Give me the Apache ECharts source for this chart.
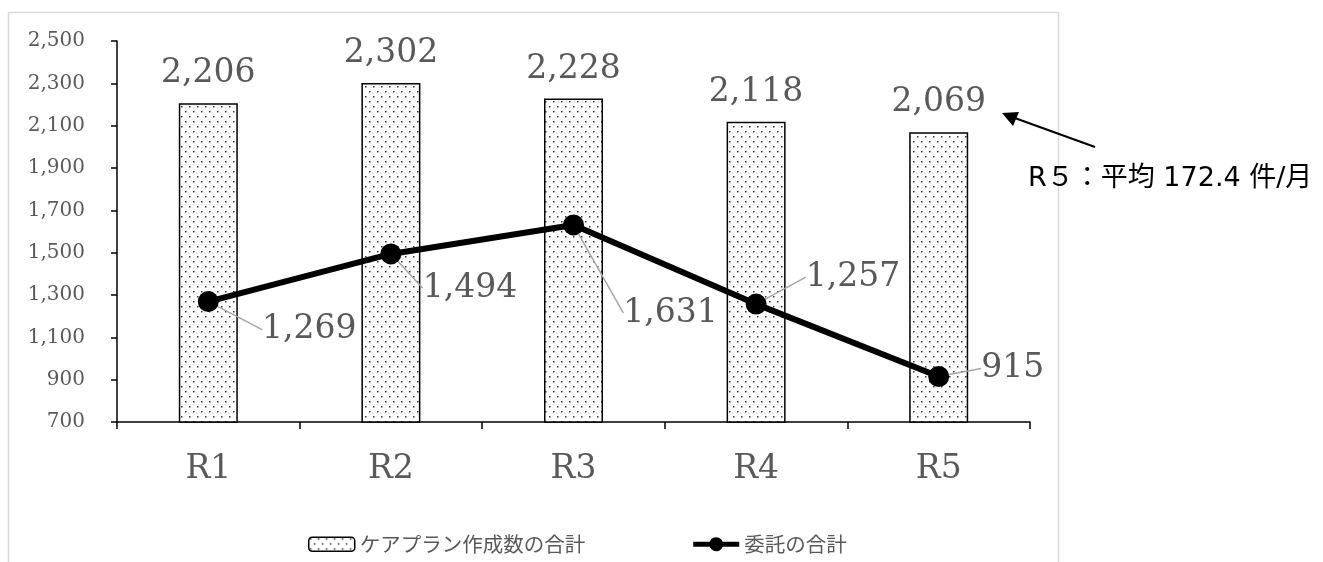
<!DOCTYPE html>
<html>
<head>
<meta charset="utf-8">
<script src="https://cdn.jsdelivr.net/npm/echarts@6/dist/echarts.min.js"></script>
<style>
  html, body { margin: 0; padding: 0; background: #fff; }
  #chart { width: 1323px; height: 562px; }
</style>
</head>
<body>
<div id="chart"></div>
<script>
// 年度
const categories = ['R1', 'R2', 'R3', 'R4', 'R5'];
// ケアプラン作成数の合計
const planTotal = [2206, 2302, 2228, 2118, 2069];
// 委託の合計
const consignTotal = [1269, 1494, 1631, 1257, 915];
// 縦軸の目盛り
const yTicks = [700, 900, 1100, 1300, 1500, 1700, 1900, 2100, 2300, 2500];

// 折れ線ラベルのずらし量 (dx, dy)
const lineLabelOffsets = [[101, 28], [79, 34], [97, 88], [97, -27], [74, -8]];

const serif = '"DejaVu Serif", "Liberation Serif", serif';
const jp = '"Noto Sans CJK JP", sans-serif';
const grayText = '#595959';

// 点々の模様
function makeDots() {
  let c = document.createElement('canvas');
  c.width = 8; c.height = 10;
  let ctx = c.getContext('2d');
  ctx.fillStyle = '#fff';
  ctx.fillRect(0, 0, 8, 10);
  ctx.fillStyle = '#333';
  ctx.fillRect(1, 1, 1.5, 1.5);
  ctx.fillRect(5, 6, 1.5, 1.5);
  return c;
}
const dots = makeDots();

function fmt(v) {
  return v.toLocaleString('en-US');
}

// 凡例用：太線＋丸
const lineIcon = 'path://M0,4.5H16.46A7,7,0,0,1,29.54,4.5H46V9.5H29.54A7,7,0,0,1,16.46,9.5H0Z';

let myChart = echarts.init(document.getElementById('chart'));
let option = {
  animation: false,
  backgroundColor: '#fff',
  grid: {
    left: 117,
    right: 293,
    top: 41,
    bottom: 140
  },
  legend: {
    left: 303,
    top: 529,
    itemGap: 108,
    itemWidth: 46,
    itemHeight: 14,
    textStyle: {
      fontFamily: jp,
      fontSize: 20.5,
      color: grayText
    },
    data: [
      { name: 'ケアプラン作成数の合計', itemStyle: { borderWidth: 1.5, borderColor: '#000' } },
      { name: '委託の合計', icon: lineIcon }
    ]
  },
  xAxis: {
    type: 'category',
    data: categories,
    boundaryGap: true,
    axisLine: { lineStyle: { color: '#000', width: 1.5 } },
    axisTick: { show: true, length: 7, lineStyle: { color: '#000', width: 1.5 } },
    axisLabel: {
      fontFamily: serif,
      fontSize: 33,
      color: grayText,
      margin: 31
    }
  },
  yAxis: {
    type: 'value',
    min: yTicks[0],
    max: yTicks[yTicks.length - 1],
    interval: yTicks[1] - yTicks[0],
    splitLine: { show: false },
    axisLine: { show: true, lineStyle: { color: '#000', width: 1.5 } },
    axisTick: { show: true, length: 6, lineStyle: { color: '#000', width: 1.5 } },
    axisLabel: {
      fontFamily: serif,
      fontSize: 20,
      color: grayText,
      margin: 32,
      formatter: function (v) { return fmt(v); }
    }
  },
  series: [
    {
      name: 'ケアプラン作成数の合計',
      type: 'bar',
      data: planTotal,
      barWidth: 59,
      itemStyle: {
        color: { image: dots, repeat: 'repeat' },
        borderColor: '#000',
        borderWidth: 1.5
      },
      label: {
        show: true,
        position: 'top',
        distance: 13,
        fontFamily: serif,
        fontSize: 33,
        color: grayText,
        formatter: function (p) { return fmt(p.value); }
      }
    },
    {
      name: '委託の合計',
      type: 'line',
      data: consignTotal,
      symbol: 'circle',
      symbolSize: 21,
      lineStyle: { color: '#000', width: 6 },
      itemStyle: { color: '#000' },
      z: 5,
      label: {
        show: true,
        position: 'inside',
        fontFamily: serif,
        fontSize: 33,
        color: grayText,
        formatter: function (p) { return fmt(p.value); }
      },
      labelLine: {
        show: true,
        lineStyle: { color: '#a6a6a6', width: 1.5 }
      },
      labelLayout: function (params) {
        let o = lineLabelOffsets[params.dataIndex];
        return { dx: o[0], dy: o[1] };
      }
    }
  ],
  graphic: [
    {
      type: 'rect',
      shape: { x: 8.5, y: 12.5, width: 1050, height: 570 },
      style: { fill: null, stroke: '#d9d9d9', lineWidth: 1.5 },
      z: -1
    },
    {
      type: 'line',
      shape: { x1: 1095, y1: 147, x2: 1012, y2: 117 },
      style: { stroke: '#000', lineWidth: 2 }
    },
    {
      type: 'polygon',
      shape: { points: [[1002, 113], [1019, 112], [1013, 126]] },
      style: { fill: '#000' }
    },
    {
      type: 'text',
      left: 1028,
      top: 165,
      style: {
        text: 'R５：平均 172.4 件/月',
        font: '27px "DejaVu Sans", "Noto Sans CJK JP", sans-serif',
        fill: '#000'
      }
    }
  ]
};
myChart.setOption(option, true);
window.addEventListener('resize', function () {
  myChart.resize();
});
</script>
</body>
</html>
